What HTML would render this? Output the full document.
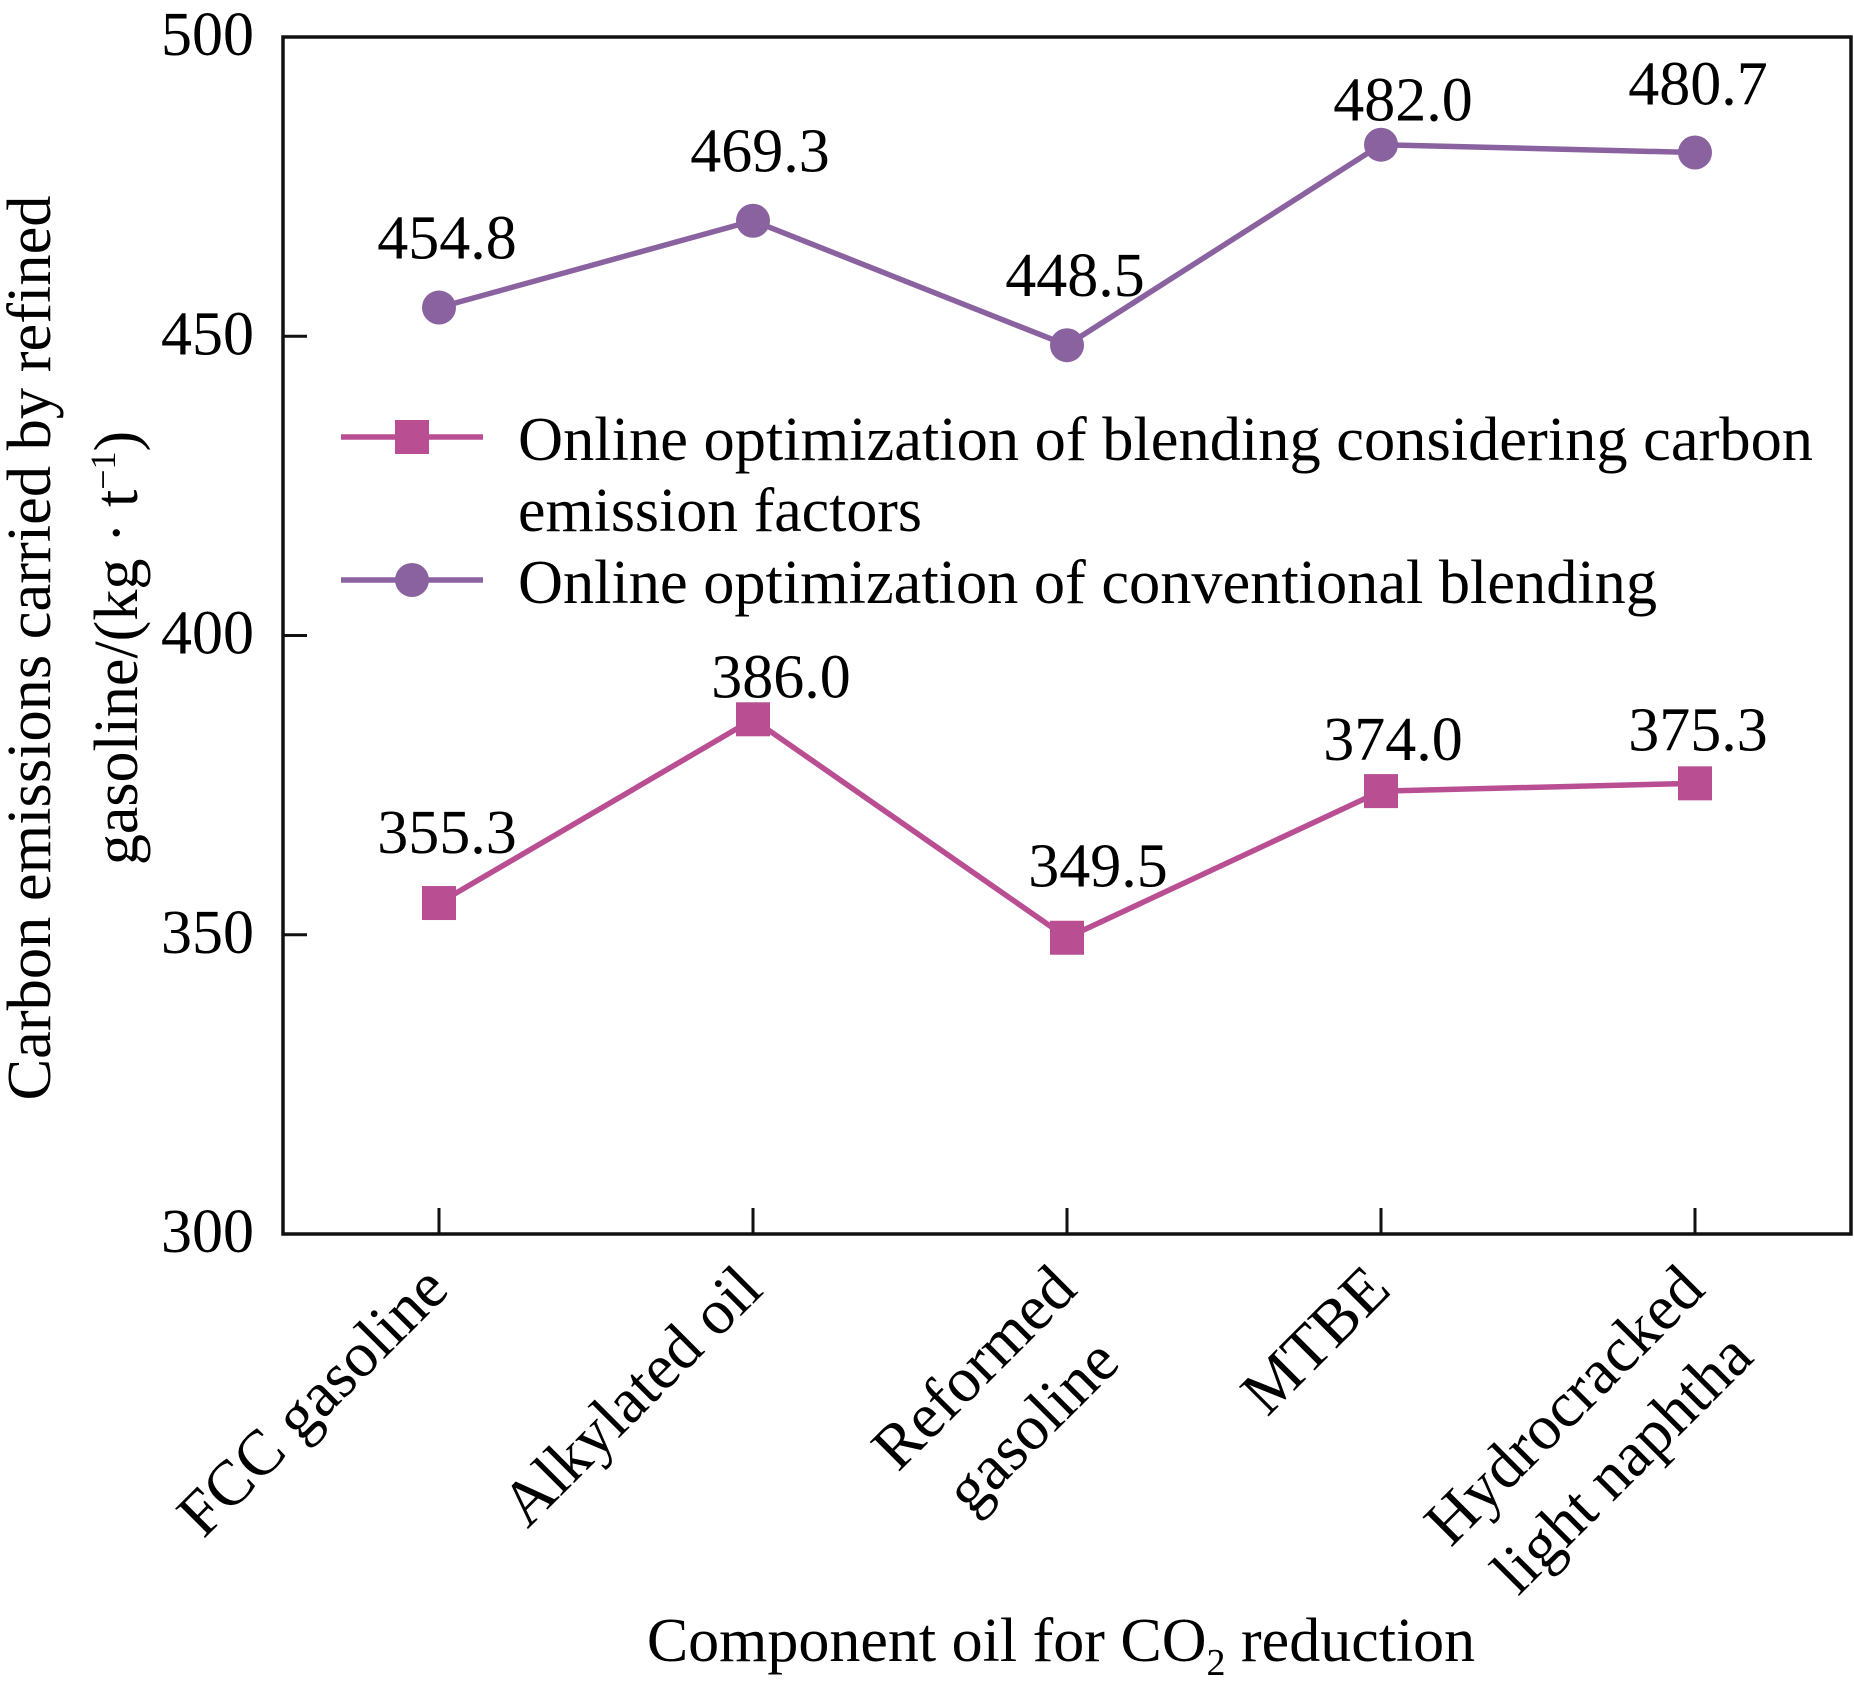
<!DOCTYPE html>
<html><head><meta charset="utf-8"><style>
html,body{margin:0;padding:0;background:#fff;}
svg{display:block;font-family:"Liberation Serif","Times New Roman",serif;}
</style></head><body>
<svg id="chart" width="1854" height="1700" viewBox="0 0 1854 1700">
<g id="axes"></g><g id="series"></g><g id="labels"></g>
<g id="legend">
  <g>
    <line x1="341" y1="437" x2="483" y2="437" stroke="#b94f92" stroke-width="5.5"/>
    <rect x="395" y="420" width="34" height="34" fill="#b94f92"/>
    <text x="518" y="460" font-size="62" textLength="1295" lengthAdjust="spacingAndGlyphs">Online optimization of blending considering carbon</text>
    <text x="518" y="531" font-size="62" textLength="404" lengthAdjust="spacingAndGlyphs">emission factors</text>
  </g>
  <g>
    <line x1="341" y1="580" x2="483" y2="580" stroke="#8b62a0" stroke-width="5.5"/>
    <circle cx="412" cy="580" r="17" fill="#8b62a0"/>
    <text x="518" y="603" font-size="62" textLength="1139" lengthAdjust="spacingAndGlyphs">Online optimization of conventional blending</text>
  </g>
</g>
<text font-size="62" text-anchor="middle" textLength="905" lengthAdjust="spacingAndGlyphs" transform="translate(50,648) rotate(-90)">Carbon emissions carried by refined</text>
<text font-size="62" text-anchor="middle" transform="translate(137,648) rotate(-90)">gasoline/(kg · t<tspan dy="-22" font-size="36">−1</tspan><tspan dy="22">)</tspan></text>
<text font-size="62" text-anchor="middle" x="1061" y="1661">Component oil for CO<tspan dy="14" font-size="38">2</tspan><tspan dy="-14"> reduction</tspan></text>
</svg>
<script>
const categories = [["FCC gasoline"],["Alkylated oil"],["Reformed","gasoline"],["MTBE"],["Hydrocracked","light naphtha"]];
const carbonValues = [355.3, 386.0, 349.5, 374.0, 375.3];
const conventionalValues = [454.8, 469.3, 448.5, 482.0, 480.7];
const yTicks = [300, 350, 400, 450, 500];
const carbonLabelDx = [8, 28, 31, 12, 3];
const carbonLabelDy = [-50, -22, -51, -31, -33];
const convLabelDx = [8, 7, 8, 22, 3];
const convLabelDy = [-49, -49, -49, -24, -48];

const NS = "http://www.w3.org/2000/svg";
const L = 283, R = 1851, T = 37, B = 1234;
function yScale(v){ return T + (500 - v) * (B - T) / 200; }
function xScale(i){ return L + 156 + i * 314; }
function mk(tag, attrs, parent){ const e = document.createElementNS(NS, tag); for (const k in attrs) e.setAttribute(k, attrs[k]); parent.appendChild(e); return e; }

const axes = document.getElementById('axes');
const frame = mk('rect', {x:L, y:T, width:R-L, height:B-T, fill:'none', stroke:'#111', 'stroke-width':3.5}, axes);


yTicks.forEach(t => {
  const y = yScale(t);
  const tk = mk('line', {x1:L, x2:L+24, y1:y, y2:y, stroke:'#111', 'stroke-width':3}, axes);
  
  
  const lb = mk('text', {x:254, y:y+18, 'font-size':62, 'text-anchor':'end'}, axes);
  lb.textContent = t;
  
  
});
categories.forEach((c, i) => {
  const x = xScale(i);
  const tk = mk('line', {x1:x, x2:x, y1:B, y2:B-26, stroke:'#111', 'stroke-width':3}, axes);
  
  
  const g = mk('g', {transform:`translate(${x+12},${B+58}) rotate(-45)`}, axes);
  
  
  const t1 = mk('text', {x:0, y:0, 'font-size':64, 'text-anchor':'end'}, g);
  t1.textContent = c[0];
  if (c.length > 1) {
    const w = t1.getComputedTextLength();
    t1.setAttribute('text-anchor', 'middle');
    t1.setAttribute('x', -w/2);
    const t2 = mk('text', {x:-w/2, y:82, 'font-size':64, 'text-anchor':'middle'}, g);
    t2.textContent = c[1];
  }
});

const series = document.getElementById('series');
const labels = document.getElementById('labels');
function drawSeries(vals, color, shape, name, ldx, ldy){
  const pts = vals.map((v, i) => [xScale(i), yScale(v)]);
  const pl = mk('polyline', {points: pts.map(p => p.join(',')).join(' '), fill:'none', stroke:color, 'stroke-width':5.5, 'stroke-linejoin':'round'}, series);
  
  
  pts.forEach((p, i) => {
    let m;
    if (shape === 'square') m = mk('rect', {x:p[0]-17, y:p[1]-17, width:34, height:34, fill:color}, series);
    else m = mk('circle', {cx:p[0], cy:p[1], r:17, fill:color}, series);
    
    
    const t = mk('text', {x:p[0]+ldx[i], y:p[1]+ldy[i], 'font-size':62, 'text-anchor':'middle'}, labels);
    t.textContent = vals[i].toFixed(1);
    
    
  });
}
drawSeries(conventionalValues, '#8b62a0', 'circle', 'conventional', convLabelDx, convLabelDy);
drawSeries(carbonValues, '#b94f92', 'square', 'carbon-factor', carbonLabelDx, carbonLabelDy);
</script>
</body></html>
